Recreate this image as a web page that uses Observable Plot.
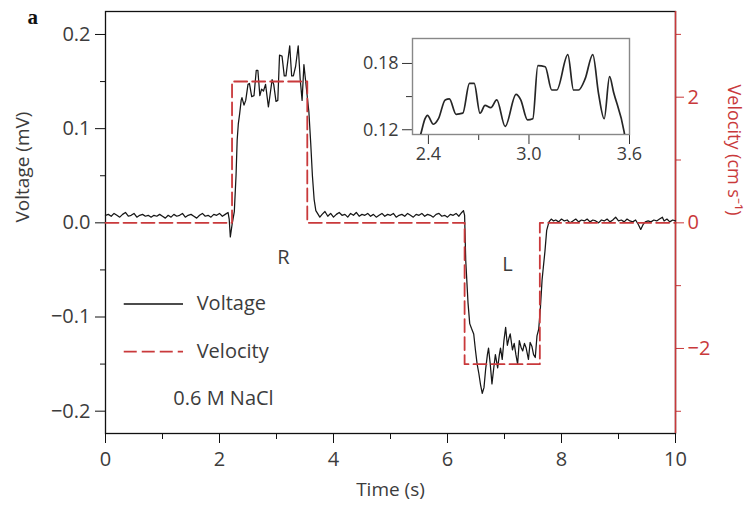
<!DOCTYPE html>
<html><head><meta charset="utf-8">
<script src="https://cdn.jsdelivr.net/npm/d3@7"></script>
<script src="https://cdn.jsdelivr.net/npm/@observablehq/plot@0.6"></script>
<style>
body{margin:0;background:#fff;}
#wrap{position:relative;width:751px;height:507px;overflow:hidden;}
#main{position:absolute;left:0;top:0;}
#inset{position:absolute;left:350px;top:20px;}
</style></head><body><div id="wrap"><div id="main"></div><div id="inset"></div></div>
<script>
// ---- data ----
const time = [
  0.00,0.05,0.10,0.15,0.20,0.25,0.30,0.35,0.40,0.45,0.50,0.55,0.60,0.65,0.70,0.75,0.80,0.85,0.90,0.95,
  1.00,1.05,1.10,1.15,1.20,1.25,1.30,1.35,1.40,1.45,1.50,1.55,1.60,1.65,1.70,1.75,1.80,1.85,1.90,1.95,
  2.00,2.05,2.10,2.15,2.17,2.19,2.22,2.26,2.29,2.31,2.33,
  2.354,2.380,2.394,2.430,2.460,2.500,2.525,2.565,2.605,2.645,2.673,2.708,2.738,2.772,2.808,2.858,2.923,2.951,2.991,
  3.023,3.053,3.097,3.136,3.166,3.232,3.266,3.296,3.335,3.381,3.415,3.449,3.481,3.505,3.568,
  3.60,3.63,3.66,3.69,3.72,3.76,
  3.80,3.85,3.90,3.95,4.00,4.05,4.10,4.15,4.20,4.25,4.30,4.35,4.40,4.45,4.50,4.55,4.60,4.65,4.70,4.75,
  4.80,4.85,4.90,4.95,5.00,5.05,5.10,5.15,5.20,5.25,5.30,5.35,5.40,5.45,5.50,5.55,5.60,5.65,5.70,5.75,
  5.80,5.85,5.90,5.95,6.00,6.05,6.10,6.15,6.20,6.25,6.28,6.30,
  6.32,6.36,6.39,6.42,6.46,6.49,6.52,6.55,6.58,6.61,6.64,6.67,6.70,6.72,6.75,6.78,6.81,6.84,6.88,6.91,
  6.93,6.96,6.99,7.02,7.05,7.08,7.10,7.14,7.17,7.20,7.23,7.26,7.29,7.32,7.35,7.38,7.42,7.45,7.48,7.51,
  7.54,7.57,7.60,7.63,7.66,7.68,7.71,7.74,7.78,7.82,7.86,
  7.90,7.95,8.00,8.05,8.10,8.15,8.20,8.25,8.30,8.35,8.40,8.45,8.50,8.55,8.60,8.65,8.70,8.75,8.80,8.85,
  8.90,8.95,9.00,9.05,9.10,9.15,9.20,9.25,9.30,9.35,9.39,9.43,9.47,9.52,9.57,9.62,9.67,9.72,9.77,9.80,
  9.85,9.90,9.95,10.00
];
const voltage = [
  0.008,0.009,0.007,0.010,0.008,0.006,0.009,0.011,0.007,0.008,0.010,0.006,0.008,0.009,0.007,0.008,0.006,0.008,0.007,0.009,
  0.007,0.005,0.008,0.006,0.009,0.007,0.008,0.010,0.006,0.008,0.009,0.007,0.005,0.008,0.010,0.007,0.008,0.006,0.009,0.008,
  0.010,0.007,0.009,0.011,0.004,-0.015,-0.002,0.012,0.050,0.088,0.105,
  0.116,0.130,0.133,0.125,0.130,0.147,0.148,0.134,0.135,0.162,0.162,0.135,0.142,0.140,0.147,0.123,0.152,0.147,0.129,
  0.130,0.178,0.177,0.156,0.156,0.188,0.156,0.156,0.166,0.188,0.153,0.130,0.168,0.154,0.118,
  0.085,0.050,0.025,0.013,0.010,0.006,
  0.009,0.012,0.007,0.010,0.006,0.009,0.011,0.008,0.009,0.006,0.010,0.008,0.011,0.007,0.009,0.008,0.010,0.007,0.009,0.006,
  0.008,0.010,0.007,0.009,0.008,0.010,0.006,0.008,0.009,0.007,0.010,0.008,0.006,0.009,0.008,0.010,0.007,0.009,0.008,0.006,
  0.009,0.010,0.007,0.008,0.006,0.009,0.008,0.010,0.007,0.011,0.013,0.008,
  -0.040,-0.085,-0.107,-0.112,-0.118,-0.135,-0.150,-0.160,-0.172,-0.181,-0.175,-0.155,-0.140,-0.133,-0.150,-0.171,-0.155,-0.140,-0.154,-0.140,
  -0.133,-0.145,-0.125,-0.111,-0.130,-0.122,-0.118,-0.135,-0.128,-0.140,-0.150,-0.125,-0.132,-0.136,-0.128,-0.133,-0.145,-0.127,-0.131,-0.140,
  -0.143,-0.120,-0.113,-0.090,-0.060,-0.048,-0.030,-0.008,0.001,0.004,0.002,
  0.003,0.001,0.004,0.002,0.003,0.000,0.002,0.004,0.001,0.003,0.002,0.004,0.001,0.003,0.002,0.000,0.003,0.002,0.004,0.001,
  0.003,0.006,0.002,0.003,0.001,0.004,0.002,0.001,0.003,-0.002,-0.007,-0.002,0.001,0.002,0.001,0.003,0.002,0.004,0.006,0.002,
  0.004,0.001,0.003,0.002
];
const velTime  = [0, 2.22, 2.22, 3.54, 3.54, 6.30, 6.30, 7.62, 7.62, 10];
const velocity = [0, 0, 2.25, 2.25, 0, 0, -2.25, -2.25, 0, 0];

const xTicks = [0, 2, 4, 6, 8, 10];
const xMinor = [1, 3, 5, 7, 9];
const yTicks = [-0.2, -0.1, 0, 0.1, 0.2];
const yMinor = [-0.15, -0.05, 0.05, 0.15];
const velTicks = [-2, 0, 2];
const velMinor = [-3, -1, 1, 3];
const insetXTicks = [2.4, 3.0, 3.6];
const insetXMinor = [2.7, 3.3];
const insetYTicks = [0.12, 0.18];
const insetYMinor = [0.15];

const segLabels = ["R", "L"];
const segLabelT = [3.12, 7.05];
const segLabelV = [-0.037, -0.044];
const legendNames = ["Voltage", "Velocity"];
const noteText = "0.6 M NaCl";

// ---- layout / style ----
const K = 0.0667;            // velocity (cm/s) -> voltage-axis units
const RED = "#c9393b";
const INK = "#3c3c3c";
const FONT = "Open Sans";

const V = time.map((t, i) => ({t, v: voltage[i]}));
const U = velTime.map((t, i) => ({t, u: velocity[i] * K}));
const seg = segLabels.map((s, i) => ({s, t: segLabelT[i], v: segLabelV[i]}));
const legX1 = 0.32, legX2 = 1.36, legTextX = 1.60;
const legY = [-0.0862, -0.1368];
const legRows = legendNames.map((name, i) => ({name, y: legY[i]}));

const main = Plot.plot({
  width: 751, height: 507,
  marginTop: 11, marginRight: 76, marginBottom: 74, marginLeft: 105,
  style: {fontFamily: FONT, fontSize: "20px", color: INK, background: "transparent", overflow: "visible"},
  x: {domain: [0, 10]},
  y: {domain: [-0.2237, 0.2244]},
  marks: [
    Plot.axisX({ticks: xTicks, tickSize: 10, tickPadding: 8, tickFormat: d => String(d), stroke: "#111", fill: INK, label: null}),
    Plot.axisX({ticks: xMinor, tickSize: 6, stroke: "#111", fill: "none", label: null}),
    Plot.axisY({ticks: yTicks, tickSize: 10, tickPadding: 5, tickFormat: d3.format(".1f"), stroke: "#111", fill: INK, label: null}),
    Plot.axisY({ticks: yMinor, tickSize: 5, stroke: "#111", fill: "none", label: null}),
    Plot.axisY({anchor: "right", ticks: velTicks.map(d => d * K), tickSize: 8, tickPadding: 4,
      tickFormat: d => d3.format("d")(Math.round(d / K)), stroke: RED, fill: RED, label: null}),
    Plot.axisY({anchor: "right", ticks: velMinor.map(d => d * K), tickSize: 5, stroke: RED, fill: "none", label: null}),
    Plot.frame({stroke: "#111", strokeWidth: 1.3}),
    Plot.ruleX([10], {stroke: RED, strokeWidth: 1.5}),
    Plot.line(V, {x: "t", y: "v", stroke: "#161616", strokeWidth: 1.25}),
    Plot.line(U, {x: "t", y: "u", stroke: RED, strokeWidth: 1.8, strokeDasharray: "13,5"}),
    Plot.text(seg, {x: "t", y: "v", text: "s", fill: INK, fontSize: 20}),
    Plot.link([legRows[0]], {x1: legX1, x2: legX2, y1: "y", y2: "y", stroke: "#111", strokeWidth: 1.3}),
    Plot.link([legRows[1]], {x1: legX1, x2: legX2, y1: "y", y2: "y", stroke: RED, strokeWidth: 1.8, strokeDasharray: "13,5"}),
    Plot.text(legRows, {x: legTextX, y: "y", text: "name", textAnchor: "start", fill: INK, fontSize: 20}),
    Plot.text([noteText], {x: 1.19, y: -0.187, textAnchor: "start", fill: INK, fontSize: 20}),
    Plot.text(["Voltage (mV)"], {frameAnchor: "left", rotate: -90, dx: -83, fill: INK, fontSize: 19}),
    Plot.text(["Time (s)"], {frameAnchor: "bottom", dy: 62, fill: INK, fontSize: 19}),
    Plot.text(["Velocity (cm s\u207B\u00B9)"], {frameAnchor: "right", rotate: 90, dx: 58, dy: -7, fill: RED, fontSize: 18}),
    Plot.text(["a"], {frameAnchor: "top-left", lineAnchor: "middle", dx: -78, dy: 6, fontWeight: "bold", fontFamily: "Liberation Serif", fontSize: 21, fill: "#111"})
  ]
});
document.getElementById("main").appendChild(main);

const insetData = V.filter(d => d.t >= 2.3 && d.t <= 3.62);
const inset = Plot.plot({
  width: 300, height: 150,
  marginTop: 18, marginRight: 21, marginBottom: 36, marginLeft: 62,
  style: {fontFamily: FONT, fontSize: "18px", color: INK, background: "transparent", overflow: "visible"},
  x: {domain: [2.305, 3.6]},
  y: {domain: [0.1157, 0.2026]},
  marks: [
    Plot.axisX({ticks: insetXTicks, tickSize: 10, tickPadding: 3, tickFormat: d3.format(".1f"), stroke: "#333", fill: INK, label: null}),
    Plot.axisX({ticks: insetXMinor, tickSize: 6, stroke: "#333", fill: "none", label: null}),
    Plot.axisY({ticks: insetYTicks, tickSize: 10, tickPadding: 4, tickFormat: d3.format(".2f"), stroke: "#333", fill: INK, label: null}),
    Plot.axisY({ticks: insetYMinor, tickSize: 6, stroke: "#333", fill: "none", label: null}),
    Plot.frame({stroke: "#888", strokeWidth: 1.4}),
    Plot.line(insetData, {x: "t", y: "v", stroke: "#262626", strokeWidth: 1.7, curve: "monotone-x", clip: true})
  ]
});
document.getElementById("inset").appendChild(inset);
</script>
</body></html>
